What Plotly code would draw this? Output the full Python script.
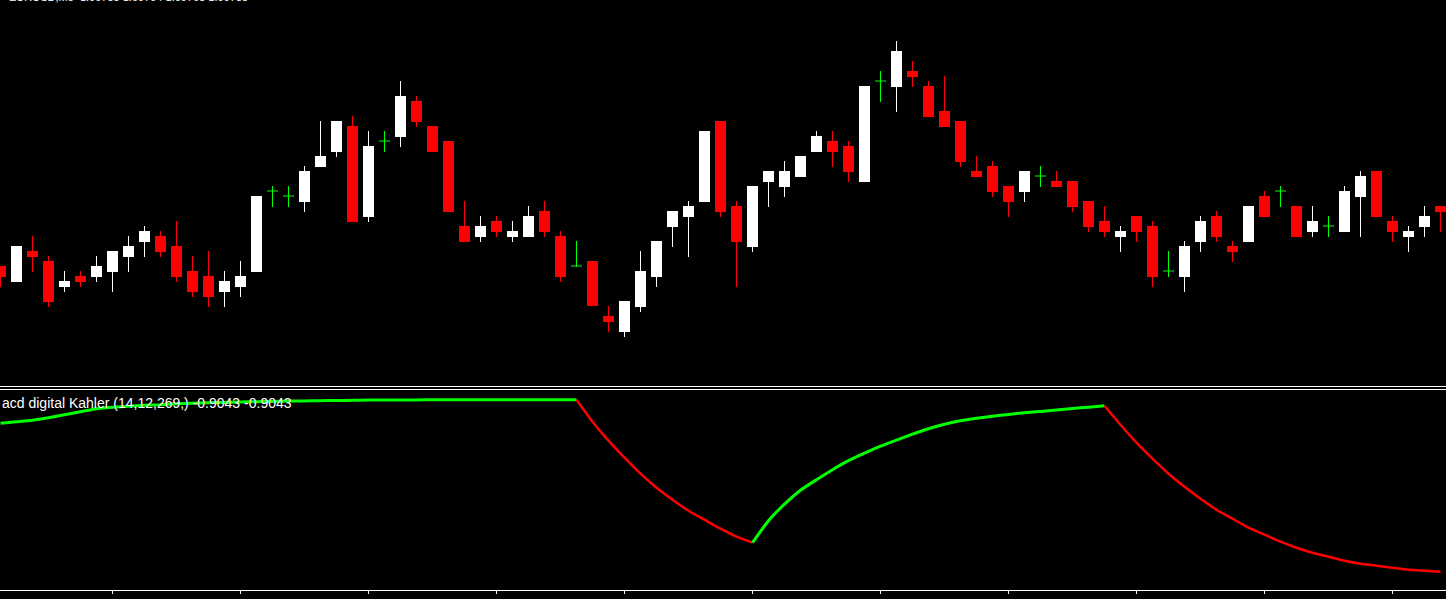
import plotly.graph_objects as go

# ---------------- data ----------------
open_ = [1.09734, 1.09718, 1.09749, 1.09739, 1.09713, 1.09724, 1.09723, 1.09728, 1.09743, 1.09758,
         1.09764, 1.09754, 1.09729, 1.09724, 1.09708, 1.09713, 1.09728, 1.09809, 1.09804, 1.09798,
         1.09833, 1.09848, 1.09874, 1.09783, 1.09859, 1.09863, 1.09899, 1.09874, 1.09859, 1.09774,
         1.09763, 1.09779, 1.09763, 1.09763, 1.09789, 1.09764, 1.09734, 1.09739, 1.09684, 1.09668,
         1.09693, 1.09723, 1.09773, 1.09783, 1.09798, 1.09879, 1.09794, 1.09753, 1.09818, 1.09813,
         1.09823, 1.09848, 1.09859, 1.09854, 1.09818, 1.09919, 1.09913, 1.09929, 1.09914, 1.09889,
         1.09879, 1.09829, 1.09834, 1.09814, 1.09808, 1.09824, 1.09819, 1.09819, 1.09799, 1.09779,
         1.09763, 1.09784, 1.09774, 1.09729, 1.09723, 1.09758, 1.09784, 1.09754, 1.09758, 1.09804,
         1.09809, 1.09794, 1.09768, 1.09774, 1.09768, 1.09803, 1.09829, 1.09779, 1.09763, 1.09773,
         1.09794]
high = [1.09734, 1.09754, 1.09764, 1.09744, 1.09729, 1.09729, 1.09744, 1.09749, 1.09764, 1.09774,
        1.09769, 1.09779, 1.09744, 1.09749, 1.09729, 1.09739, 1.09804, 1.09814, 1.09814, 1.09834,
        1.09879, 1.09879, 1.09884, 1.09869, 1.09869, 1.09919, 1.09904, 1.09874, 1.09859, 1.09799,
        1.09784, 1.09784, 1.09779, 1.09794, 1.09799, 1.09769, 1.09759, 1.09739, 1.09694, 1.09699,
        1.09749, 1.09759, 1.09789, 1.09799, 1.09869, 1.09879, 1.09799, 1.09814, 1.09829, 1.09839,
        1.09844, 1.09869, 1.09869, 1.09859, 1.09914, 1.09929, 1.09959, 1.09939, 1.09919, 1.09924,
        1.09879, 1.09844, 1.09839, 1.09814, 1.09829, 1.09834, 1.09829, 1.09819, 1.09799, 1.09794,
        1.09774, 1.09784, 1.09779, 1.09749, 1.09759, 1.09784, 1.09789, 1.09759, 1.09794, 1.09809,
        1.09814, 1.09794, 1.09794, 1.09784, 1.09814, 1.09829, 1.09829, 1.09784, 1.09774, 1.09794,
        1.09794]
low = [1.09713, 1.09718, 1.09728, 1.09693, 1.09708, 1.09713, 1.09718, 1.09708, 1.09728, 1.09743,
       1.09743, 1.09718, 1.09703, 1.09693, 1.09693, 1.09703, 1.09728, 1.09793, 1.09793, 1.09788,
       1.09833, 1.09843, 1.09778, 1.09778, 1.09848, 1.09853, 1.09873, 1.09848, 1.09788, 1.09758,
       1.09758, 1.09763, 1.09758, 1.09763, 1.09763, 1.09718, 1.09733, 1.09694, 1.09668, 1.09663,
       1.09688, 1.09713, 1.09753, 1.09743, 1.09798, 1.09783, 1.09713, 1.09748, 1.09793, 1.09803,
       1.09823, 1.09848, 1.09833, 1.09818, 1.09818, 1.09898, 1.09888, 1.09913, 1.09883, 1.09873,
       1.09833, 1.09823, 1.09803, 1.09783, 1.09798, 1.09813, 1.09813, 1.09788, 1.09768, 1.09763,
       1.09748, 1.09758, 1.09713, 1.09723, 1.09708, 1.09748, 1.09758, 1.09738, 1.09758, 1.09783,
       1.09793, 1.09763, 1.09763, 1.09763, 1.09768, 1.09763, 1.09783, 1.09758, 1.09748, 1.09763,
       1.09768]
close = [1.09723, 1.09754, 1.09743, 1.09698, 1.09719, 1.09718, 1.09734, 1.09749, 1.09754, 1.09769,
         1.09748, 1.09723, 1.09708, 1.09703, 1.09719, 1.09724, 1.09804, 1.09809, 1.09804, 1.09829,
         1.09844, 1.09879, 1.09778, 1.09854, 1.09859, 1.09904, 1.09878, 1.09848, 1.09788, 1.09758,
         1.09774, 1.09768, 1.09769, 1.09784, 1.09768, 1.09723, 1.09734, 1.09694, 1.09678, 1.09699,
         1.09729, 1.09759, 1.09789, 1.09794, 1.09869, 1.09788, 1.09758, 1.09814, 1.09829, 1.09829,
         1.09844, 1.09864, 1.09848, 1.09828, 1.09914, 1.09919, 1.09949, 1.09923, 1.09883, 1.09873,
         1.09838, 1.09823, 1.09808, 1.09798, 1.09829, 1.09824, 1.09813, 1.09793, 1.09773, 1.09768,
         1.09769, 1.09768, 1.09723, 1.09729, 1.09754, 1.09779, 1.09763, 1.09748, 1.09794, 1.09783,
         1.09809, 1.09763, 1.09779, 1.09774, 1.09809, 1.09824, 1.09783, 1.09768, 1.09769, 1.09784,
         1.09788]
macd = [-0.7558, -0.7543, -0.7528, -0.7503, -0.7473, -0.7443, -0.7413, -0.7398, -0.7388, -0.7378,
        -0.7373, -0.7363, -0.7358, -0.7353, -0.7350, -0.7346, -0.7343, -0.7340, -0.7337, -0.7335,
        -0.7333, -0.7331, -0.7329, -0.7326, -0.7325, -0.7325, -0.7325, -0.7324, -0.7324, -0.7324,
        -0.7324, -0.7324, -0.7323, -0.7323, -0.7323, -0.7323, -0.7323, -0.7543, -0.7733, -0.7903,
        -0.8063, -0.8203, -0.8323, -0.8433, -0.8523, -0.8613, -0.8693, -0.8753, -0.8533, -0.8368,
        -0.8228, -0.8123, -0.8023, -0.7933, -0.7858, -0.7788, -0.7728, -0.7668, -0.7613, -0.7568,
        -0.7533, -0.7508, -0.7488, -0.7470, -0.7453, -0.7440, -0.7425, -0.7410, -0.7398, -0.7383,
        -0.7573, -0.7753, -0.7913, -0.8063, -0.8193, -0.8313, -0.8423, -0.8513, -0.8603, -0.8673,
        -0.8743, -0.8803, -0.8853, -0.8893, -0.8933, -0.8963, -0.8983, -0.9003, -0.9023, -0.9033,
        -0.9043]
tick_bars = [7, 15, 23, 31, 39, 47, 55, 63, 71, 79, 87]
tick_labels = ["8 Dec 09:35", "8 Dec 10:15", "8 Dec 10:55", "8 Dec 11:35", "8 Dec 12:15",
               "8 Dec 12:55", "8 Dec 13:35", "8 Dec 14:15", "8 Dec 14:55", "8 Dec 15:35",
               "8 Dec 16:15"]
first_label = "2023"
title_text = "EURUSD,M5  1.09788 1.09794 1.09768 1.09788"
indicator_label = "acd digital Kahler (14,12,269,) -0.9043 -0.9043"

# ---------------- layout constants ----------------
W, H = 1446, 599
BAR_PX = 16
PRICE_TOP_PX, PRICE_BOT_PX = 0, 385
IND_TOP_PX, IND_BOT_PX = 391, 590
PX_PER_PRICE = 100000.0
PX_PER_IND = 1000.0
FONT = "Liberation Sans"
BULL, BEAR, DOJI = "#FFFFFF", "#FF0000", "#00FF00"

n = len(open_)
xs = list(range(n))


def py(pix):
    return 1 - pix / H


x_start = -0.5 / BAR_PX
x_range = [x_start, x_start + W / BAR_PX]

price_top = max(high) + 41 / PX_PER_PRICE
price_range = [price_top - (PRICE_BOT_PX - PRICE_TOP_PX) / PX_PER_PRICE, price_top]
ind_top = max(macd) + 8.7 / PX_PER_IND
ind_range = [ind_top - (IND_BOT_PX - IND_TOP_PX) / PX_PER_IND, ind_top]

fig = go.Figure()

# wicks
for col in (BULL, BEAR, DOJI):
    wx, wy = [], []
    for k in xs:
        c = BULL if close[k] > open_[k] else (BEAR if close[k] < open_[k] else DOJI)
        if c == col:
            wx += [k, k, None]
            wy += [low[k], high[k], None]
    fig.add_trace(go.Scatter(x=wx, y=wy, mode="lines", line=dict(color=col, width=1),
                             hoverinfo="skip", showlegend=False))

# bodies
bx, by, bb, bc = [], [], [], []
for k in xs:
    if close[k] != open_[k]:
        bx.append(k)
        by.append(abs(close[k] - open_[k]))
        bb.append(min(close[k], open_[k]))
        bc.append(BULL if close[k] > open_[k] else BEAR)
fig.add_trace(go.Bar(x=bx, y=by, base=bb, width=11 / BAR_PX,
                     marker=dict(color=bc, line=dict(width=0)), showlegend=False,
                     hoverinfo="skip"))

# doji crosses
dx, dy = [], []
half = 5.5 / BAR_PX
for k in xs:
    if close[k] == open_[k]:
        dx += [k - half, k + half, None]
        dy += [open_[k], open_[k], None]
fig.add_trace(go.Scatter(x=dx, y=dy, mode="lines", line=dict(color=DOJI, width=1),
                         hoverinfo="skip", showlegend=False))

# indicator: contiguous runs coloured by direction
runs = []
for k in range(1, n):
    col = DOJI if macd[k] >= macd[k - 1] else BEAR
    if runs and runs[-1][0] == col:
        runs[-1][1].append(k)
    else:
        runs.append([col, [k - 1, k]])
for col, ks in runs:
    fig.add_trace(go.Scatter(x=ks, y=[macd[k] for k in ks], yaxis="y2", mode="lines",
                             line=dict(color=col, width=3 if col == DOJI else 2.5,
                                       shape="spline", smoothing=0.5),
                             hoverinfo="skip", showlegend=False))

shapes = []
for pix in (386.5, 389.5, 590.5):
    shapes.append(dict(type="line", xref="paper", yref="paper", x0=0, x1=1,
                       y0=py(pix), y1=py(pix), line=dict(color="#FFFFFF", width=1)))
for k in tick_bars:
    shapes.append(dict(type="line", xref="x", yref="paper", x0=k, x1=k,
                       y0=py(590.5), y1=py(594), line=dict(color="#FFFFFF", width=1)))

annotations = [
    dict(text=indicator_label, xref="paper", yref="paper", x=0, y=py(393),
         xanchor="left", yanchor="top", showarrow=False,
         font=dict(family=FONT, size=14, color="#FFFFFF")),
    dict(text=title_text, xref="paper", yref="paper", x=7 / W, y=py(5),
         xanchor="left", yanchor="bottom", showarrow=False,
         font=dict(family=FONT, size=11, color="#FFFFFF")),
    dict(text=first_label, xref="paper", yref="paper", x=20 / W, y=py(595),
         xanchor="left", yanchor="top", showarrow=False,
         font=dict(family=FONT, size=11, color="#FFFFFF")),
]
for k, lab in zip(tick_bars, tick_labels):
    annotations.append(dict(text=lab, xref="x", yref="paper", x=k + 1.5 / BAR_PX, y=py(595),
                            xanchor="left", yanchor="top", showarrow=False,
                            font=dict(family=FONT, size=11, color="#FFFFFF")))

fig.update_layout(
    width=W, height=H, autosize=False,
    margin=dict(l=0, r=0, t=0, b=0, pad=0),
    paper_bgcolor="#000000", plot_bgcolor="#000000",
    showlegend=False, bargap=0,
    xaxis=dict(range=x_range, visible=False, fixedrange=True),
    yaxis=dict(domain=[py(PRICE_BOT_PX), py(PRICE_TOP_PX)], range=price_range,
               visible=False, fixedrange=True),
    yaxis2=dict(domain=[py(IND_BOT_PX), py(IND_TOP_PX)], range=ind_range, anchor="x",
                visible=False, fixedrange=True),
    shapes=shapes, annotations=annotations,
)

fig.write_html("out.html", config={"displayModeBar": False, "staticPlot": True},
               post_script="document.body.style.margin='0';document.body.style.background='#000';")
